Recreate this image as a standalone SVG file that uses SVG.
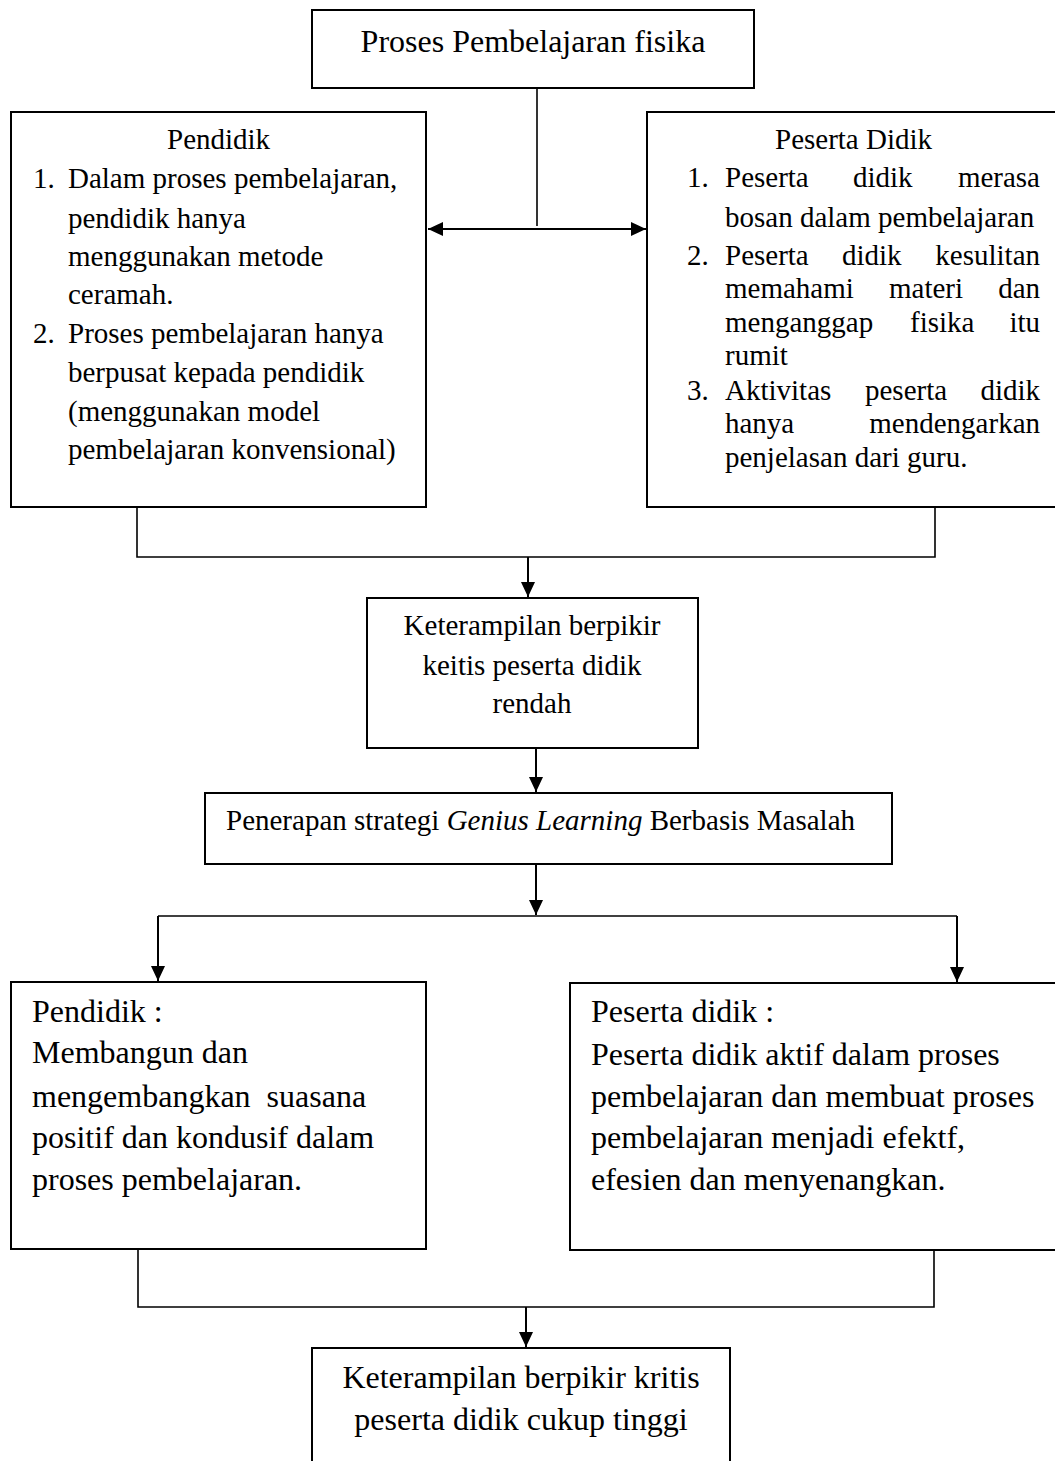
<svg xmlns="http://www.w3.org/2000/svg" width="1055" height="1461" viewBox="0 0 1055 1461">
<style>
  .box { fill: #ffffff; stroke: #000000; stroke-width: 2; }
  .ln { fill: none; stroke: #000000; stroke-width: 1.6; }
  .ar { fill: none; stroke: #000000; stroke-width: 2; }
  text { font-family: "Liberation Serif", "Times New Roman", serif; fill: #000000; }
  .t29 { font-size: 29px; }
  .t32 { font-size: 32px; }
  .c { text-anchor: middle; }
  .e { text-anchor: end; }
</style>
<defs>
  <marker id="ah" markerUnits="userSpaceOnUse" markerWidth="16" markerHeight="14" refX="15" refY="7" orient="auto-start-reverse">
    <path d="M0,0 L15,7 L0,14 z" fill="#000000"/>
  </marker>
</defs>
<rect width="1055" height="1461" fill="#ffffff"/>

<g id="connectors">
  <line class="ln" x1="537" y1="88" x2="537" y2="226"/>
  <line class="ar" x1="428" y1="229" x2="646" y2="229" marker-start="url(#ah)" marker-end="url(#ah)"/>
  <polyline class="ln" points="137,507 137,557 935,557 935,507"/>
  <line class="ar" x1="528" y1="557" x2="528" y2="597" marker-end="url(#ah)"/>
  <line class="ar" x1="536" y1="748" x2="536" y2="792" marker-end="url(#ah)"/>
  <line class="ar" x1="536" y1="864" x2="536" y2="915" marker-end="url(#ah)"/>
  <line class="ln" x1="158" y1="916" x2="957" y2="916"/>
  <line class="ar" x1="158" y1="916" x2="158" y2="981" marker-end="url(#ah)"/>
  <line class="ar" x1="957" y1="916" x2="957" y2="982" marker-end="url(#ah)"/>
  <polyline class="ln" points="138,1249 138,1307 934,1307 934,1250"/>
  <line class="ar" x1="526" y1="1307" x2="526" y2="1347" marker-end="url(#ah)"/>
</g>

<g id="node-proses">
  <rect class="box" x="312" y="10" width="442" height="78"/>
  <text class="t32 c" x="533" y="52">Proses Pembelajaran fisika</text>
</g>

<g id="node-pendidik">
  <rect class="box" x="11" y="112" width="415" height="395"/>
  <text class="t29" x="167" y="149">Pendidik</text>
  <text class="t29" x="33" y="188">1.</text>
  <text class="t29" x="68" y="188">Dalam proses pembelajaran,</text>
  <text class="t29" x="68" y="228">pendidik hanya</text>
  <text class="t29" x="68" y="266">menggunakan metode</text>
  <text class="t29" x="68" y="304">ceramah.</text>
  <text class="t29" x="33" y="343">2.</text>
  <text class="t29" x="68" y="343">Proses pembelajaran hanya</text>
  <text class="t29" x="68" y="382">berpusat kepada pendidik</text>
  <text class="t29" x="68" y="421">(menggunakan model</text>
  <text class="t29" x="68" y="459">pembelajaran konvensional)</text>
</g>

<g id="node-peserta-didik">
  <rect class="box" x="647" y="112" width="420" height="395"/>
  <text class="t29" x="775" y="149">Peserta Didik</text>
  <text class="t29" x="687" y="187">1.</text>
  <text class="t29" x="725" y="187">Peserta</text>
  <text class="t29" x="853" y="187">didik</text>
  <text class="t29 e" x="1040" y="187">merasa</text>
  <text class="t29" x="725" y="227">bosan dalam pembelajaran</text>
  <text class="t29" x="687" y="265">2.</text>
  <text class="t29" x="725" y="265">Peserta</text>
  <text class="t29" x="842" y="265">didik</text>
  <text class="t29 e" x="1040" y="265">kesulitan</text>
  <text class="t29" x="725" y="298">memahami</text>
  <text class="t29" x="889" y="298">materi</text>
  <text class="t29 e" x="1040" y="298">dan</text>
  <text class="t29" x="725" y="332">menganggap</text>
  <text class="t29" x="910" y="332">fisika</text>
  <text class="t29 e" x="1040" y="332">itu</text>
  <text class="t29" x="725" y="365">rumit</text>
  <text class="t29" x="687" y="400">3.</text>
  <text class="t29" x="725" y="400">Aktivitas</text>
  <text class="t29" x="865" y="400">peserta</text>
  <text class="t29 e" x="1040" y="400">didik</text>
  <text class="t29" x="725" y="433">hanya</text>
  <text class="t29 e" x="1040" y="433">mendengarkan</text>
  <text class="t29" x="725" y="467">penjelasan dari guru.</text>
</g>

<g id="node-rendah">
  <rect class="box" x="367" y="598" width="331" height="150"/>
  <text class="t29 c" x="532" y="635">Keterampilan berpikir</text>
  <text class="t29 c" x="532" y="675">keitis peserta didik</text>
  <text class="t29 c" x="532" y="713">rendah</text>
</g>

<g id="node-penerapan">
  <rect class="box" x="205" y="793" width="687" height="71"/>
  <text class="t29" x="226" y="830">Penerapan strategi <tspan font-style="italic">Genius Learning</tspan> Berbasis Masalah</text>
</g>

<g id="node-pendidik-2">
  <rect class="box" x="11" y="982" width="415" height="267"/>
  <text class="t32" x="32" y="1022">Pendidik :</text>
  <text class="t32" x="32" y="1063">Membangun dan</text>
  <text class="t32" x="32" y="1107" style="white-space:pre">mengembangkan  suasana</text>
  <text class="t32" x="32" y="1148">positif dan kondusif dalam</text>
  <text class="t32" x="32" y="1190">proses pembelajaran.</text>
</g>

<g id="node-peserta-didik-2">
  <rect class="box" x="570" y="983" width="497" height="267"/>
  <text class="t32" x="591" y="1022">Peserta didik :</text>
  <text class="t32" x="591" y="1065">Peserta didik aktif dalam proses</text>
  <text class="t32" x="591" y="1107">pembelajaran dan membuat proses</text>
  <text class="t32" x="591" y="1148">pembelajaran menjadi efektf,</text>
  <text class="t32" x="591" y="1190">efesien dan menyenangkan.</text>
</g>

<g id="node-tinggi">
  <rect class="box" x="312" y="1348" width="418" height="130"/>
  <text class="t32 c" x="521" y="1388">Keterampilan berpikir kritis</text>
  <text class="t32 c" x="521" y="1430">peserta didik cukup tinggi</text>
</g>
</svg>
